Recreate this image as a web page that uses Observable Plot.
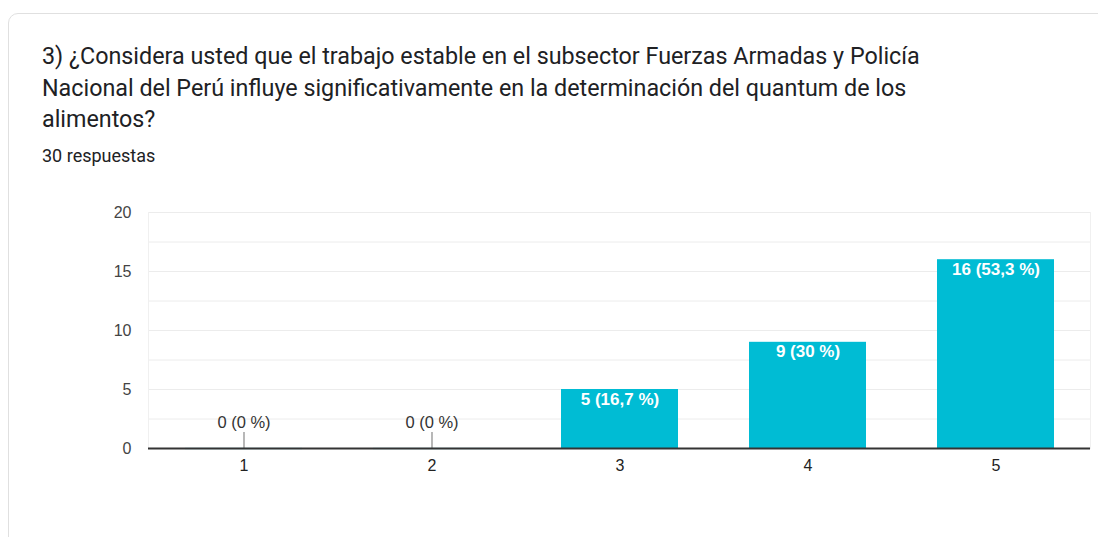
<!DOCTYPE html>
<html>
<head>
<meta charset="utf-8">
<script src="https://cdn.jsdelivr.net/npm/d3@7"></script>
<script src="https://cdn.jsdelivr.net/npm/@observablehq/plot@0.6"></script>
<style>
  html, body { margin: 0; padding: 0; background: #ffffff; width: 1098px; height: 537px; overflow: hidden; }
  #card { position: absolute; left: 8px; top: 13px; width: 1200px; height: 600px; border: 1px solid #e0e0e0; border-radius: 10px; background: #fff; box-sizing: border-box; }
  #title { position: absolute; left: 42px; top: 41px; width: 1000px; font-family: Roboto, "Open Sans", sans-serif; font-size: 23.3px; line-height: 31.5px; color: #202124; white-space: nowrap; }
  #sub { position: absolute; left: 42px; top: 145px; font-family: Roboto, sans-serif; font-size: 18px; color: #202124; white-space: nowrap; }
  #chart { position: absolute; left: 0; top: 195px; }
</style>
</head>
<body>
<div id="card"></div>
<div id="title">3) ¿Considera usted que el trabajo estable en el subsector Fuerzas Armadas y Policía<br>Nacional del Perú influye significativamente en la determinación del quantum de los<br>alimentos?</div>
<div id="sub">30 respuestas</div>
<div id="chart"></div>
<script>
const categories = ["1", "2", "3", "4", "5"];
const counts = [0, 0, 5, 9, 16];
const percentLabels = ["0 %", "0 %", "16,7 %", "30 %", "53,3 %"];
const yTicks = [0, 5, 10, 15, 20];
const gridValues = [0, 2.5, 5, 7.5, 10, 12.5, 15, 17.5, 20];

const data = categories.map((c, i) => ({cat: c, count: counts[i], label: `${counts[i]} (${percentLabels[i]})`}));
const zeroData = data.filter(d => d.count === 0);
const nonZero = data.filter(d => d.count > 0);
const teal = "#00bcd4";

const chart = Plot.plot({
  width: 1098,
  height: 295,
  marginLeft: 148,
  marginRight: 8,
  marginTop: 17,
  marginBottom: 42,
  style: {fontFamily: "Liberation Sans, Arial, sans-serif", fontSize: "16px", background: "transparent"},
  x: {domain: categories, paddingInner: 0.38, paddingOuter: 0.19, label: null},
  y: {domain: [0, 20], label: null},
  marks: [
    Plot.ruleY(gridValues, {stroke: "#ececec", strokeWidth: 1}),
    Plot.frame({stroke: "#f0f0f0", anchor: "left"}),
    Plot.frame({stroke: "#f0f0f0", anchor: "right"}),
    Plot.barY(nonZero, {x: "cat", y: "count", fill: teal}),
    Plot.tickY(zeroData, {x: "cat", y: "count", stroke: teal, strokeOpacity: 0.35, strokeWidth: 1.5}),
    Plot.ruleX(zeroData, {x: "cat", y1: "count", y2: "count", stroke: "#888", strokeWidth: 1.2, insetTop: -16}),
    Plot.text(zeroData, {x: "cat", y: "count", text: "label", lineAnchor: "bottom", dy: -21, fill: "#333", fontSize: 16.5}),
    Plot.text(nonZero, {x: "cat", y: "count", text: "label", lineAnchor: "top", dy: 3, fill: "#ffffff", fontWeight: "bold", fontSize: 17}),
    Plot.ruleY([0], {stroke: "#333", strokeWidth: 2}),
    Plot.axisY({ticks: yTicks, tickSize: 0, tickPadding: 17, color: "#444", fontSize: 16}),
    Plot.axisX({tickSize: 0, tickPadding: 11, color: "#222", fontSize: 16})
  ]
});
document.getElementById("chart").appendChild(chart);
</script>
</body>
</html>
